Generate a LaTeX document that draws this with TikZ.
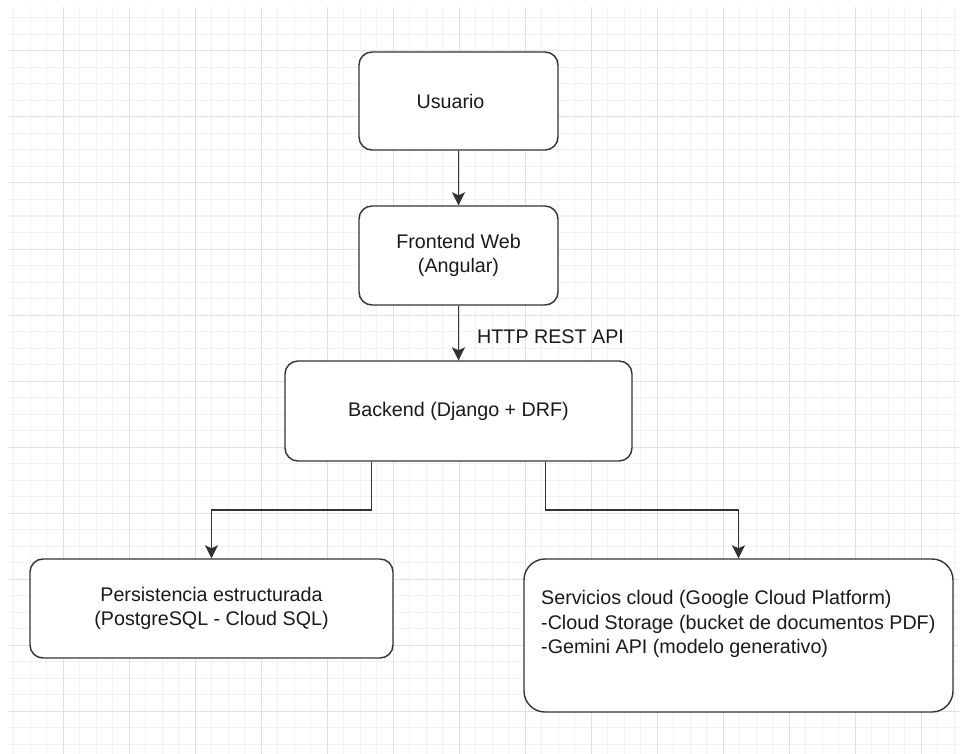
\documentclass[tikz,border=0pt]{standalone}
\usepackage{fontspec}
\setmainfont{Liberation Sans}
\usetikzlibrary{arrows.meta,calc}
\definecolor{gridminor}{HTML}{F2F2F2}
\definecolor{gridmajor}{HTML}{E0E0E0}
\definecolor{stroke}{HTML}{333333}
\definecolor{txt}{HTML}{1A1A1A}
\tikzset{
  box/.style={draw=stroke, line width=1.4pt, fill=white, rounded corners=13pt, inner sep=0pt, align=center, text=txt},
  arr/.style={draw=stroke, line width=1.4pt, -{Stealth[length=13pt,width=13pt,inset=3pt]}},
  lbl/.style={text=txt, inner sep=0pt},
  minorline/.style={draw=gridminor, line width=1pt},
  majorline/.style={draw=gridmajor, line width=1pt}
}
\begin{document}
\begin{tikzpicture}[x=1pt,y=-1pt,font=\fontsize{19.7}{24.7}\selectfont]
\useasboundingbox (0,0) rectangle (966,754);
\fill[white] (0,0) rectangle (966,754);
% grid
\foreach \k in {-3,...,54} {\draw[minorline] (63.3+16.5*\k,7) -- (63.3+16.5*\k,754);}
\foreach \k in {-2,...,42} {\draw[minorline] (8,51+16.5*\k) -- (959,51+16.5*\k);}
\foreach \k in {0,...,13} {\draw[majorline] (63.3+66*\k,7) -- (63.3+66*\k,754);}
\foreach \k in {0,...,10} {\draw[majorline] (8,51+66*\k) -- (959,51+66*\k);}
% boxes
\node[box, minimum width=199pt, minimum height=98pt] (usr) at (458.5,101) {\hspace*{-16pt}Usuario};
\node[box, minimum width=199pt, minimum height=99pt] (front) at (458.5,255.5) {Frontend Web\\(Angular)};
\node[box, minimum width=347pt, minimum height=100pt] (back) at (458.5,411) {Backend (Django + DRF)};
\node[box, minimum width=363pt, minimum height=99pt] (pers) at (211.5,608.5) {Persistencia estructurada\\(PostgreSQL - Cloud SQL)};
\node[box, minimum width=429pt, minimum height=153pt, rounded corners=21pt] (cloud) at (738.5,635.5) {};
\node[lbl, anchor=west, align=left] (cloudtxt) at (541,624) {Servicios cloud (Google Cloud Platform)\\-Cloud Storage (bucket de documentos PDF)\\-Gemini API (modelo generativo)};
% connectors
\draw[arr] (usr) -- (front);
\draw[arr] (front) -- node[lbl, pos=0.57, anchor=west, xshift=18pt] (api) {HTTP REST API} (back);
\coordinate (bl) at ($(back.south west)!0.25!(back.south east)$);
\coordinate (br) at ($(back.south west)!0.75!(back.south east)$);
\draw[arr, rounded corners=0pt] (bl) |- ($(bl)!0.5!(pers.north)$) -| (pers.north);
\draw[arr, rounded corners=0pt] (br) |- ($(br)!0.5!(cloud.north)$) -| (cloud.north);
\end{tikzpicture}
\end{document}
